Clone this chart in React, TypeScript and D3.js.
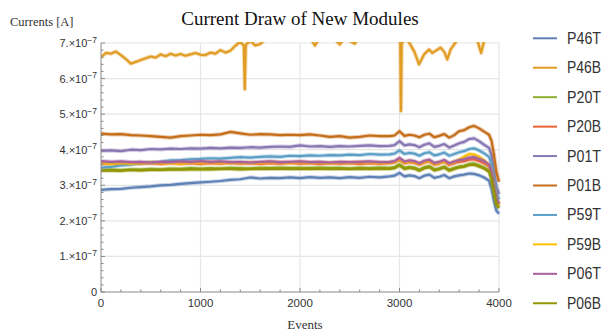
import React from 'react';
import * as d3 from 'd3';

// events shared by most series (finer steps near the end where the wiggle is)
const events = [
  0, 100, 200, 300, 400, 500, 600, 700, 800, 900, 1000, 1100, 1200, 1300, 1400,
  1500, 1600, 1700, 1800, 1900, 2000, 2100, 2200, 2300, 2400, 2500, 2600, 2700, 2800, 2900,
  2950, 3000, 3050, 3100, 3150, 3200, 3250, 3300, 3350, 3400, 3450, 3500, 3550, 3600,
  3650, 3700, 3750, 3800, 3850, 3900, 3925, 3950, 3975, 4000,
];

// currents in units of 1e-7 A
const p46t = [
  2.87, 2.89, 2.90, 2.93, 2.95, 2.97, 3.00, 3.01, 3.04, 3.06, 3.08, 3.10, 3.12, 3.15, 3.17,
  3.22, 3.19, 3.21, 3.20, 3.22, 3.20, 3.23, 3.21, 3.22, 3.20, 3.23, 3.21, 3.24, 3.22, 3.25,
  3.27, 3.35, 3.25, 3.28, 3.26, 3.20, 3.27, 3.30, 3.21, 3.24, 3.29, 3.20, 3.25, 3.28,
  3.30, 3.33, 3.32, 3.28, 3.22, 3.13, 2.90, 2.55, 2.28, 2.20,
];
const p20t = [
  3.43, 3.44, 3.42, 3.45, 3.44, 3.46, 3.45, 3.47, 3.46, 3.48, 3.47, 3.48, 3.47, 3.49, 3.48,
  3.47, 3.49, 3.48, 3.50, 3.48, 3.49, 3.48, 3.50, 3.48, 3.49, 3.47, 3.49, 3.48, 3.50, 3.49,
  3.51, 3.59, 3.49, 3.52, 3.50, 3.44, 3.51, 3.54, 3.45, 3.48, 3.53, 3.44, 3.49, 3.53,
  3.55, 3.60, 3.61, 3.56, 3.50, 3.41, 3.21, 2.81, 2.48, 2.38,
];
const p20b = [
  3.60, 3.62, 3.60, 3.63, 3.61, 3.62, 3.60, 3.63, 3.61, 3.62, 3.60, 3.62, 3.61, 3.63, 3.61,
  3.62, 3.60, 3.62, 3.61, 3.63, 3.61, 3.62, 3.60, 3.62, 3.61, 3.62, 3.60, 3.62, 3.61, 3.62,
  3.64, 3.72, 3.62, 3.65, 3.63, 3.58, 3.64, 3.67, 3.58, 3.61, 3.66, 3.57, 3.62, 3.66,
  3.68, 3.72, 3.73, 3.68, 3.62, 3.53, 3.33, 2.93, 2.58, 2.45,
];
const p01t = [
  3.97, 3.98, 3.96, 4.00, 3.99, 4.02, 4.01, 4.03, 4.02, 4.04, 4.03, 4.05, 4.04, 4.06, 4.05,
  4.07, 4.06, 4.08, 4.09, 4.08, 4.12, 4.09, 4.10, 4.08, 4.10, 4.09, 4.11, 4.12, 4.10, 4.11,
  4.13, 4.24, 4.12, 4.15, 4.13, 4.07, 4.14, 4.18, 4.08, 4.11, 4.16, 4.06, 4.12, 4.18,
  4.22, 4.30, 4.32, 4.24, 4.14, 4.05, 3.85, 3.40, 2.95, 2.75,
];
const p01b = [
  4.45, 4.43, 4.44, 4.41, 4.40, 4.38, 4.36, 4.34, 4.38, 4.40, 4.42, 4.41, 4.43, 4.50, 4.46,
  4.42, 4.44, 4.43, 4.41, 4.42, 4.41, 4.43, 4.40, 4.36, 4.38, 4.34, 4.36, 4.40, 4.38, 4.38,
  4.40, 4.52, 4.39, 4.42, 4.40, 4.35, 4.42, 4.45, 4.35, 4.39, 4.44, 4.34, 4.41, 4.52,
  4.55, 4.63, 4.67, 4.60, 4.51, 4.42, 4.25, 3.85, 3.35, 3.10,
];
const p59t = [
  3.50, 3.52, 3.56, 3.58, 3.62, 3.64, 3.66, 3.70, 3.71, 3.73, 3.74, 3.76, 3.75, 3.77, 3.79,
  3.78, 3.80, 3.81, 3.80, 3.83, 3.82, 3.84, 3.83, 3.85, 3.84, 3.86, 3.85, 3.88, 3.86, 3.87,
  3.89, 3.98, 3.88, 3.91, 3.89, 3.83, 3.90, 3.93, 3.84, 3.87, 3.92, 3.83, 3.88, 3.93,
  3.96, 4.02, 4.04, 3.98, 3.90, 3.80, 3.60, 3.20, 2.80, 2.60,
];
const p59b = [
  3.62, 3.60, 3.63, 3.61, 3.62, 3.64, 3.62, 3.63, 3.61, 3.64, 3.63, 3.65, 3.63, 3.64, 3.62,
  3.64, 3.63, 3.65, 3.64, 3.63, 3.65, 3.63, 3.64, 3.62, 3.64, 3.63, 3.65, 3.64, 3.63, 3.64,
  3.66, 3.74, 3.64, 3.67, 3.65, 3.60, 3.66, 3.69, 3.60, 3.63, 3.68, 3.60, 3.66, 3.72,
  3.80, 3.88, 3.86, 3.80, 3.70, 3.56, 3.36, 2.96, 2.60, 2.46,
];
const p06t = [
  3.68, 3.66, 3.67, 3.65, 3.66, 3.64, 3.66, 3.65, 3.67, 3.66, 3.68, 3.66, 3.67, 3.65, 3.66,
  3.64, 3.66, 3.67, 3.65, 3.66, 3.67, 3.65, 3.66, 3.64, 3.66, 3.65, 3.66, 3.67, 3.65, 3.66,
  3.68, 3.77, 3.67, 3.70, 3.68, 3.62, 3.69, 3.72, 3.63, 3.66, 3.71, 3.62, 3.67, 3.71,
  3.73, 3.78, 3.79, 3.74, 3.68, 3.58, 3.38, 2.98, 2.62, 2.48,
];
const p06b = [
  3.41, 3.42, 3.41, 3.43, 3.42, 3.43, 3.43, 3.44, 3.44, 3.45, 3.45, 3.45, 3.46, 3.46, 3.45,
  3.46, 3.46, 3.47, 3.46, 3.47, 3.46, 3.47, 3.46, 3.47, 3.46, 3.46, 3.47, 3.46, 3.47, 3.46,
  3.48, 3.56, 3.46, 3.49, 3.47, 3.41, 3.48, 3.51, 3.42, 3.45, 3.50, 3.41, 3.46, 3.50,
  3.52, 3.57, 3.58, 3.53, 3.47, 3.38, 3.18, 2.80, 2.45, 2.36,
];

// P46B has its own sampling (two narrow downward spikes)
const p46bEvents = [
  0, 50, 100, 150, 200, 250, 300, 350, 400, 450, 500, 550, 600, 650, 700, 750, 800, 850, 900,
  950, 1000, 1050, 1100, 1150, 1200, 1250, 1300, 1350, 1400, 1435, 1445, 1455, 1500, 1550,
  1600, 1650, 1700, 1800, 1900, 2000, 2100, 2150, 2200, 2300, 2400, 2450, 2550, 2600, 2700,
  2800, 2900, 3000, 3008, 3015, 3022, 3060, 3100, 3150, 3196, 3247, 3297, 3330, 3363, 3413,
  3450, 3480, 3514, 3564, 3600, 3700, 3780, 3820, 3850, 3900, 4000,
];
const p46b = [
  6.60, 6.72, 6.70, 6.76, 6.66, 6.55, 6.42, 6.47, 6.52, 6.57, 6.62, 6.59, 6.68, 6.63, 6.70,
  6.65, 6.69, 6.64, 6.68, 6.72, 6.67, 6.66, 6.73, 6.70, 6.80, 6.73, 6.78, 6.92, 7.04, 6.92,
  5.70, 6.95, 7.06, 6.93, 6.97, 7.10, 7.18, 7.25, 7.20, 7.25, 7.15, 6.93, 7.15, 7.25, 6.96,
  7.15, 6.98, 7.20, 7.25, 7.20, 7.25, 7.10, 6.98, 5.09, 6.98, 7.15, 7.00, 6.75, 6.40, 6.68,
  6.82, 6.72, 6.78, 6.87, 6.75, 6.54, 6.82, 7.02, 7.15, 7.20, 7.10, 6.72, 7.05, 7.20, 7.30,
];

const names = ['P46T', 'P46B', 'P20T', 'P20B', 'P01T', 'P01B', 'P59T', 'P59B', 'P06T', 'P06B'];
const colors = ['#5e81b5', '#e19c24', '#8fb032', '#eb6235', '#8778b3', '#c56e1a', '#5d9ec7', '#ffbf00', '#a5609d', '#929600'];

const seriesX = [events, p46bEvents, events, events, events, events, events, events, events, events];
const seriesY = [p46t, p46b, p20t, p20b, p01t, p01b, p59t, p59b, p06t, p06b];

const W = 608, H = 333;
const left = 101, right = 499, top = 43, bottom = 292;

export default function App() {
  const x = d3.scaleLinear().domain([0, 4000]).range([left, right]);
  const y = d3.scaleLinear().domain([0, 7]).range([bottom, top]);

  const line = d3.line<[number, number]>()
    .x(d => x(d[0]))
    .y(d => y(d[1]));

  const xMajor = x.ticks(4);
  const xMinor = d3.range(0, 4001, 200).filter(v => v % 1000 !== 0);
  const yMajor = d3.range(0, 8, 1);
  const yMinor = d3.range(0, 7.01, 0.2).filter(v => Math.abs(v - Math.round(v)) > 0.01);

  const sans = 'Arial, "Liberation Sans", sans-serif';
  const serif = '"Liberation Serif", "Times New Roman", serif';

  const paths = seriesY.map((vals, i) =>
    line(vals.map((v, j) => [seriesX[i][j], v] as [number, number])) || '');

  return (
    <svg width={W} height={H} style={{ position: 'absolute', left: 0, top: 0, background: 'white' }}>
      <defs>
        <clipPath id="plot">
          <rect x={left} y={top - 1} width={right - left + 2} height={bottom - top + 1} />
        </clipPath>
      </defs>

      {/* grid lines */}
      <g stroke="#e6e6e6" strokeWidth={1.2}>
        {yMajor.filter(v => v > 0).map(v => (
          <line key={'gy' + v} x1={left} x2={right} y1={y(v)} y2={y(v)} />
        ))}
        {xMajor.filter(v => v > 0).map(v => (
          <line key={'gx' + v} x1={x(v)} x2={x(v)} y1={top} y2={bottom} />
        ))}
      </g>

      {/* series: a faint wide band for the noise, then the core line */}
      <g clipPath="url(#plot)" fill="none" strokeLinejoin="round">
        {paths.map((d, i) => (
          <g key={names[i]}>
            <path d={d} stroke={colors[i]} strokeWidth={4.2} strokeOpacity={0.35} />
            <path d={d} stroke={colors[i]} strokeWidth={2.2} />
          </g>
        ))}
      </g>

      {/* axes */}
      <g stroke="#888" strokeWidth={1}>
        <line x1={left} x2={left} y1={top} y2={bottom} />
        <line x1={left} x2={right} y1={bottom} y2={bottom} />
        {yMajor.map(v => <line key={'ty' + v} x1={left} x2={left + 4} y1={y(v)} y2={y(v)} />)}
        {yMinor.map(v => <line key={'my' + v} x1={left} x2={left + 2.5} y1={y(v)} y2={y(v)} />)}
        {xMajor.map(v => <line key={'tx' + v} x1={x(v)} x2={x(v)} y1={bottom} y2={bottom - 4} />)}
        {xMinor.map(v => <line key={'mx' + v} x1={x(v)} x2={x(v)} y1={bottom} y2={bottom - 2.5} />)}
      </g>

      {/* tick labels */}
      <g fontFamily={sans} fontSize={11} fill="#333">
        {yMajor.map(v =>
          v === 0 ? (
            <text key={'ly' + v} x={left - 4} y={y(v) + 4} textAnchor="end">0</text>
          ) : (
            <text key={'ly' + v} x={left - 4} y={y(v) + 4} textAnchor="end">
              {v}.×10<tspan fontSize={8.5} dy={-4.5}>−7</tspan>
            </text>
          )
        )}
        {xMajor.map(v => (
          <text key={'lx' + v} x={x(v)} y={bottom + 15} textAnchor="middle" fontSize={11.5}>{v}</text>
        ))}
      </g>

      {/* titles */}
      <text x={300} y={25} textAnchor="middle" fontFamily={serif} fontSize={19} fill="#111">
        Current Draw of New Modules
      </text>
      <text x={10} y={26} fontFamily={serif} fontSize={12.5} fill="#333">Currents [A]</text>
      <text x={305} y={329} textAnchor="middle" fontFamily={serif} fontSize={13} fill="#333">Events</text>

      {/* legend */}
      <g>
        {names.map((n, i) => {
          const ly = 38.3 + i * 29.44;
          return (
            <g key={'lg' + n}>
              <line x1={533} x2={557} y1={ly} y2={ly} stroke={colors[i]} strokeWidth={2} />
              <text x={567} y={ly + 5.5} fontFamily={sans} fontSize={16} fill="#333"
                textLength={34} lengthAdjust="spacingAndGlyphs">{n}</text>
            </g>
          );
        })}
      </g>
    </svg>
  );
}
